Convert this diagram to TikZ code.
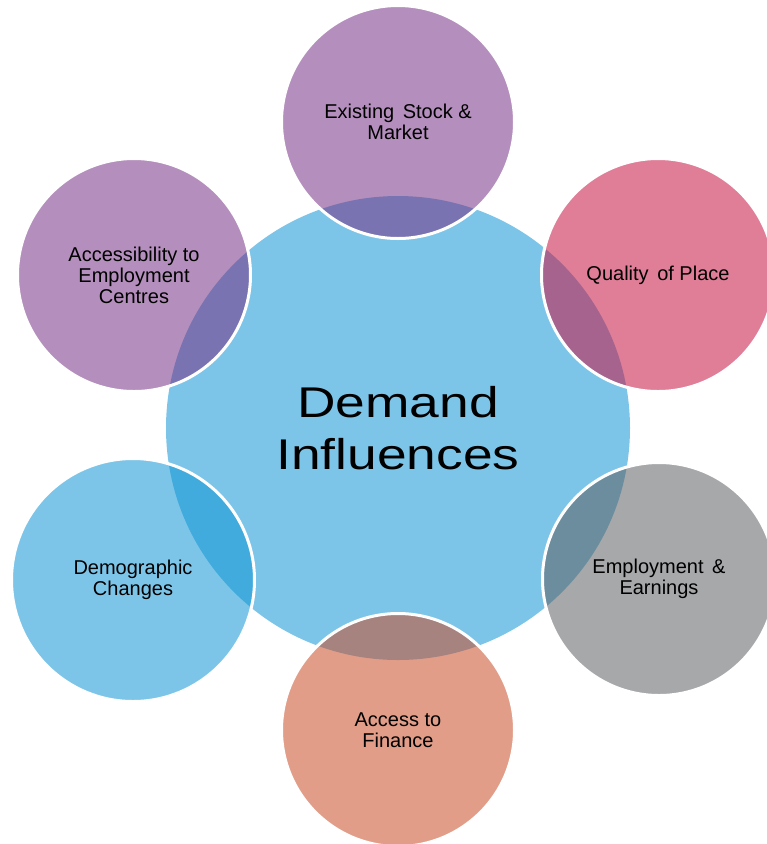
\documentclass[tikz,border=0pt]{standalone}
\usepackage{fontspec}
\setmainfont{Liberation Sans}
\usepackage{graphicx}
\definecolor{hubblue}{RGB}{125,197,232}
\definecolor{skyblue}{RGB}{19,150,213}
\definecolor{plum}{RGB}{119,50,133}
\definecolor{rose}{RGB}{199,20,68}
\definecolor{slate}{RGB}{94,96,99}
\definecolor{terracotta}{RGB}{200,77,39}
\newcommand{\widetext}[1]{\scalebox{1.24}[1]{#1}}
\begin{document}
\begin{tikzpicture}[x=1pt,y=-1pt,
  hub/.style={circle,fill=hubblue,minimum size=464pt,inner sep=0pt,align=center,
    font=\fontsize{43}{52}\selectfont},
  factor/.style={circle,draw=white,line width=3pt,fill opacity=.55,text opacity=1,
    minimum size=233pt,inner sep=0pt,align=center,font=\fontsize{20}{21}\selectfont}]
\useasboundingbox (0,0) rectangle (767,844);
% central circle
\node[hub] (demand) at (398,428) {\widetext{Demand}\\\widetext{Influences}};
% the six influences, clockwise from the top
\node[factor,fill=plum] (stock) at (398,122) {Existing\hspace{.15em} Stock \&\\Market};
\node[factor,fill=rose] (place) at (658,275) {Quality\hspace{.15em} of Place};
\node[factor,fill=slate] (earnings) at (659,579) {Employment\hspace{.15em} \&\\Earnings};
\node[factor,fill=terracotta] (finance) at (398,730) {Access to\\Finance};
\node[factor,fill=skyblue,minimum size=243pt] (demog) at (133,580) {Demographic\\Changes};
\node[factor,fill=plum] (access) at (134,275) {Accessibility to\\Employment\\Centres};
%
\end{tikzpicture}
\end{document}
